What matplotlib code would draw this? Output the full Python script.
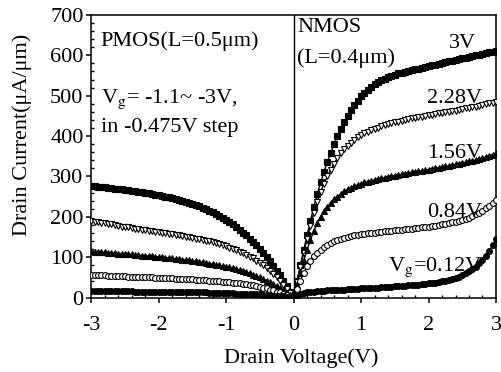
import numpy as np
import matplotlib
matplotlib.use("Agg")
import matplotlib.pyplot as plt
from matplotlib.ticker import MultipleLocator

plt.rcParams['font.family'] = ['Liberation Serif', 'DejaVu Serif']
plt.rcParams['mathtext.fontset'] = 'stix'
plt.rcParams['axes.unicode_minus'] = False

# drain voltage grids (V), 0.05 V steps
vd_p = np.linspace(-3.0, 0.0, 61)
vd_n = np.linspace(0.0, 3.0, 61)

# PMOS drain current (uA/um), |Vg| = 3V ... 1.1V
p_sq = [277, 276, 275, 274, 273, 272, 271, 270, 269, 268, 267, 266, 265, 264, 262, 261,
        259, 258, 256, 255, 253, 252, 250, 248, 246, 244, 242, 240, 237, 235, 232, 229,
        226, 223, 219, 215, 211, 207, 202, 197, 192, 187, 181, 175, 168, 161, 154, 146,
        138, 130, 121, 111, 101, 90, 79, 67, 55, 42, 29, 15, 0]
p_tri_open = [190, 188, 187, 185, 184, 182, 181, 179, 178, 176, 175, 174, 173, 171, 170, 168,
              167, 166, 165, 163, 162, 161, 160, 158, 157, 155, 154, 152, 151, 149, 148, 146,
              145, 143, 141, 139, 137, 134, 132, 129, 127, 124, 121, 117, 114, 110, 106, 101,
              97, 91, 86, 80, 73, 66, 58, 50, 41, 31, 21, 11, 0]
p_tri = [115, 114, 113, 113, 112, 111, 111, 110, 109, 109, 108, 107, 107, 106, 105, 104,
         104, 103, 102, 101, 101, 100, 99, 98, 97, 96, 95, 94, 93, 92, 91, 90,
         89, 87, 86, 84, 83, 81, 80, 78, 77, 75, 73, 70, 68, 65, 63, 60,
         57, 54, 50, 46, 42, 38, 33, 28, 23, 18, 12, 6, 0]
p_circ_open = [56, 56, 55, 55, 55, 54, 54, 53, 53, 53, 53, 52, 52, 51, 51, 51,
               51, 50, 50, 49, 49, 48, 48, 48, 48, 47, 47, 46, 46, 45, 45, 44,
               44, 43, 43, 42, 42, 41, 40, 39, 39, 38, 37, 36, 35, 34, 33, 31,
               30, 28, 27, 25, 23, 20, 18, 15, 13, 10, 7, 4, 0]
p_circ = [17, 17, 17, 17, 17, 16, 16, 16, 16, 16, 16, 16, 16, 15, 15, 15,
          15, 15, 15, 15, 15, 14, 14, 14, 14, 14, 14, 14, 14, 13, 13, 13,
          13, 13, 13, 12, 12, 12, 12, 11, 11, 11, 11, 10, 10, 9, 9, 9,
          9, 8, 8, 7, 7, 6, 5, 4, 4, 3, 2, 1, 0]

# NMOS drain current (uA/um), Vg = 3, 2.28, 1.56, 0.84, 0.12 V
n_3v = [0, 40, 80, 118, 155, 190, 225, 256, 285, 311, 335, 358, 380, 400, 418, 435,
        450, 464, 477, 488, 498, 507, 515, 522, 528, 533, 538, 542, 546, 549, 552, 555,
        557, 559, 561, 563, 565, 567, 569, 571, 573, 575, 577, 579, 581, 583, 585, 587,
        589, 591, 593, 594, 596, 598, 600, 601, 603, 605, 607, 609, 611]
n_228 = [0, 38, 75, 110, 145, 178, 210, 237, 262, 282, 300, 317, 332, 345, 357, 367,
         376, 384, 391, 397, 402, 407, 411, 415, 418, 421, 424, 427, 429, 432, 434, 436,
         438, 440, 442, 444, 445, 447, 448, 450, 451, 453, 454, 456, 457, 459, 460, 462,
         463, 465, 467, 469, 470, 472, 473, 475, 477, 479, 481, 483, 485]
n_156 = [0, 32, 62, 91, 118, 143, 165, 184, 200, 214, 225, 235, 243, 250, 257, 263,
         268, 272, 276, 279, 282, 285, 287, 289, 291, 293, 295, 297, 299, 301, 302, 304,
         305, 307, 308, 310, 311, 313, 314, 316, 317, 319, 320, 322, 323, 325, 326, 328,
         330, 332, 333, 335, 337, 339, 341, 343, 346, 348, 351, 354, 357]
n_084 = [0, 22, 42, 61, 78, 91, 102, 111, 118, 125, 130, 135, 139, 142, 145, 148,
         150, 152, 154, 156, 157, 158, 159, 160, 161, 162, 163, 164, 165, 166, 167, 167,
         168, 169, 170, 171, 172, 173, 174, 175, 176, 177, 178, 180, 181, 182, 184, 186,
         188, 190, 192, 195, 198, 202, 206, 210, 215, 221, 227, 234, 242]
n_012 = [0, 5, 9, 11, 13, 14, 15, 16, 17, 17, 18, 18, 19, 19, 20, 20,
         21, 21, 22, 22, 23, 23, 24, 24, 25, 25, 26, 26, 27, 27, 28, 28,
         29, 29, 30, 30, 31, 32, 33, 34, 35, 36, 37, 38, 40, 42, 44, 46,
         49, 52, 56, 60, 65, 71, 77, 85, 93, 103, 115, 129, 145]

fig = plt.figure(figsize=(5.01, 3.72), dpi=100)
ax = fig.add_axes([0.182, 0.200, 0.808, 0.760])

styles = [('s', 'k'), ('v', 'w'), ('^', 'k'), ('o', 'w'), ('o', 'k')]
for x, series in ((vd_p, [p_sq, p_tri_open, p_tri, p_circ_open, p_circ]),
                  (vd_n, [n_3v, n_228, n_156, n_084, n_012])):
    for y, (m, fc) in zip(series, styles):
        ax.plot(x, y, color='k', lw=1.0, zorder=2)
        ax.plot(x, y, ls='none', marker=m, ms=4.2, mfc=fc, mec='k', mew=0.8, zorder=3)

ax.axvline(0, color='k', lw=1.0, zorder=1)

ax.set_xlim(-3, 3)
ax.set_ylim(0, 700)
ax.xaxis.set_major_locator(MultipleLocator(1))
ax.xaxis.set_minor_locator(MultipleLocator(0.2))
ax.yaxis.set_major_locator(MultipleLocator(100))
ax.yaxis.set_minor_locator(MultipleLocator(20))
ax.tick_params(which='major', direction='out', length=3.5, width=1.1, labelsize=16,
               top=False, right=False)
ax.tick_params(axis='x', which='major', pad=10)
ax.tick_params(axis='y', which='major', pad=2)
ax.tick_params(which='minor', direction='in', length=2.5, width=1, top=False, right=False)
for s in ax.spines.values():
    s.set_linewidth(1.1)

ax.set_xlabel('Drain Voltage(V)', fontsize=16)
ax.set_ylabel('Drain Current(\u03bcA/\u03bcm)', fontsize=16)
ax.xaxis.set_label_coords(0.52, -0.215, transform=ax.transAxes)
ax.yaxis.set_label_coords(-0.17, 0.575, transform=ax.transAxes)
ax.xaxis.label.set_va('center')
ax.yaxis.label.set_va('center')

fs = 16
ax.text(-2.86, 636, 'PMOS(L=0.5\u03bcm)', fontsize=fs, va='center', ha='left')
ax.text(-2.86, 492, r'V$_\mathrm{g}$= -1.1~ -3V,', fontsize=fs, va='center', ha='left')
ax.text(-2.86, 421, 'in -0.475V step', fontsize=fs, va='center', ha='left')
ax.text(0.05, 668, 'NMOS', fontsize=fs, va='center', ha='left')
ax.text(0.05, 594, '(L=0.4\u03bcm)', fontsize=fs, va='center', ha='left')
ax.text(2.7, 630, '3V', fontsize=fs, va='center', ha='right')
ax.text(2.8, 494, '2.28V', fontsize=fs, va='center', ha='right')
ax.text(2.8, 358, '1.56V', fontsize=fs, va='center', ha='right')
ax.text(2.8, 211, '0.84V', fontsize=fs, va='center', ha='right')
ax.text(2.8, 74, r'V$_\mathrm{g}$=0.12V', fontsize=fs, va='center', ha='right')

fig.savefig('out.png', dpi=100)
